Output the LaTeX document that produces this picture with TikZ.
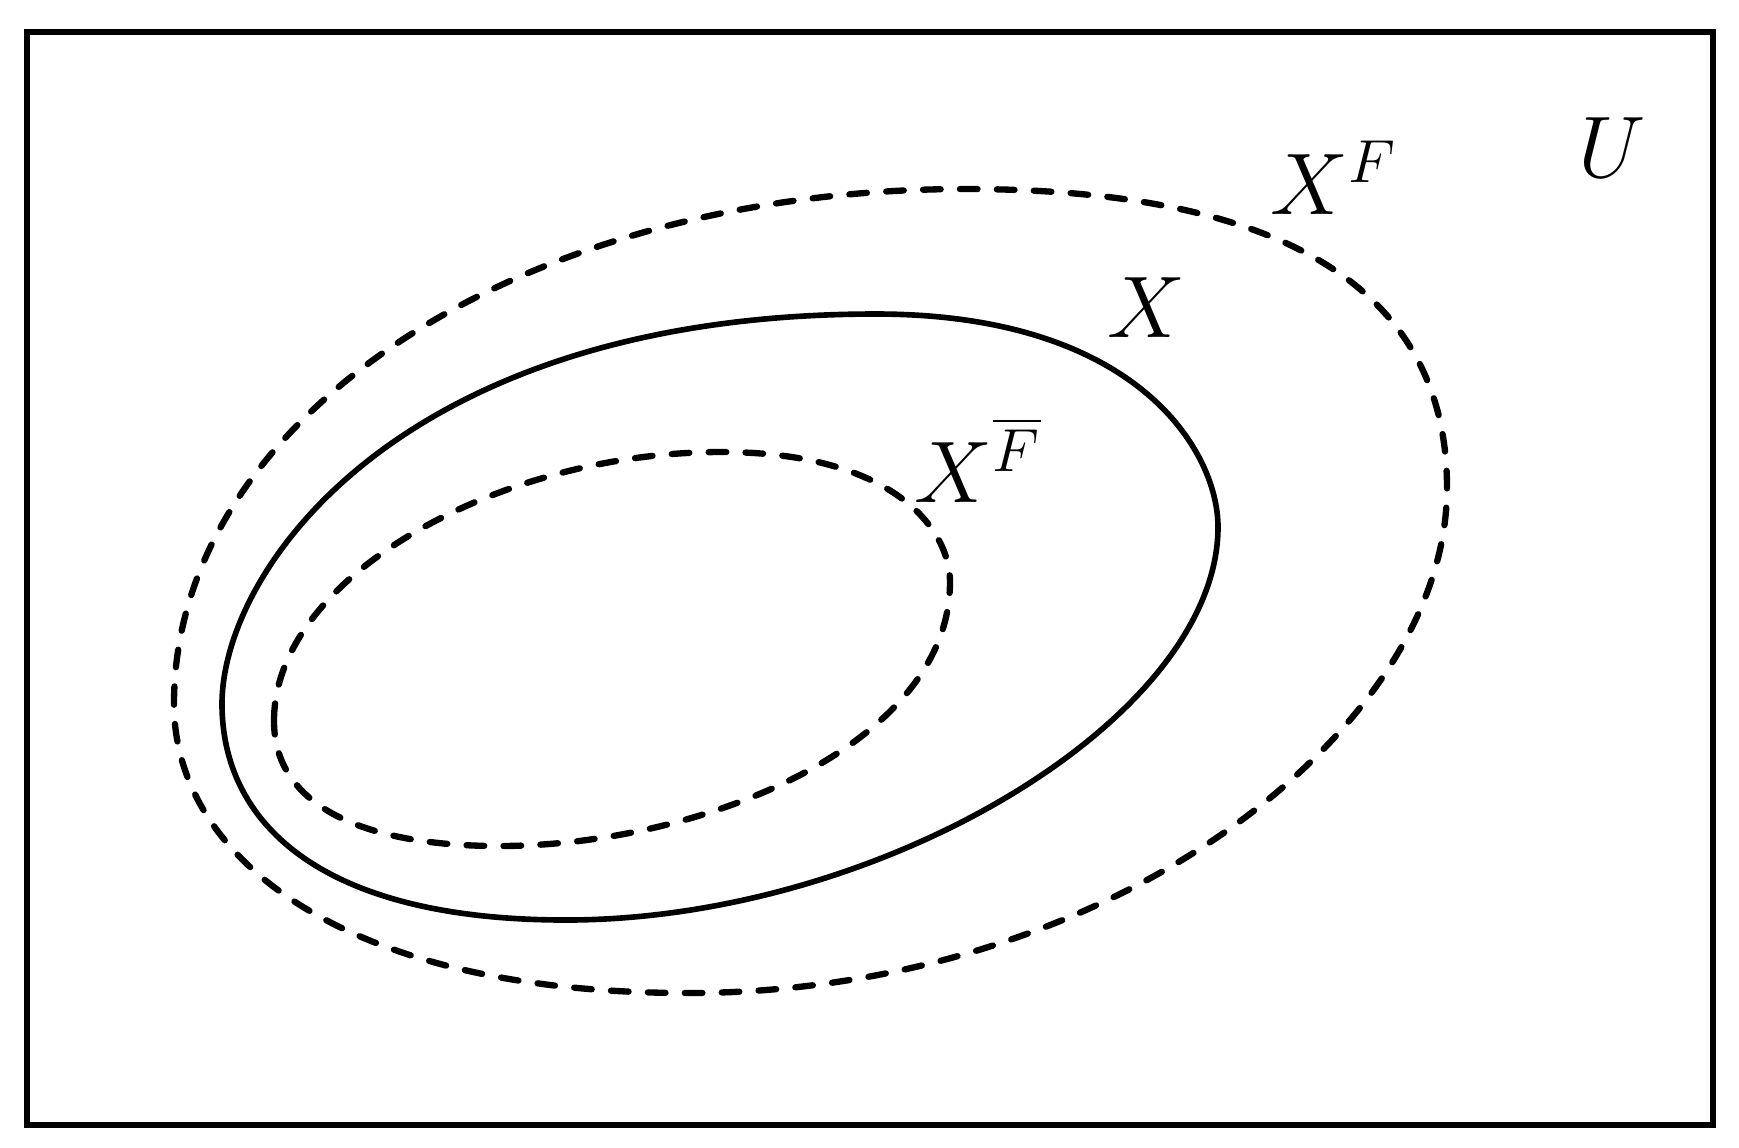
\documentclass[tikz,border=0pt]{standalone}
\usepackage{amssymb}
\usepackage{tikz}

\begin{document}
\begin{tikzpicture}[x=0.01cm, y=-0.01cm,
    every node/.style={font=\fontsize{25}{30}\selectfont},
    setline/.style={line width=1.6pt},
    approxline/.style={line width=1.8pt, line cap=round, dash pattern=on 5pt off 5.5pt}]
    \useasboundingbox (0,0) rectangle (1739,1147);
    % universe
    \draw[line width=1.8pt] (27,32) rectangle (1713,1125);
    \node (u) at (1612,148) {$U$};
    % upper approximation
    \draw[approxline] (174,704) .. controls (174,415) and (526,189) .. (965,189)
        .. controls (1362,189) and (1447,345) .. (1447,488)
        .. controls (1447,732) and (1108,993) .. (688,993)
        .. controls (339,993) and (174,855) .. cycle;
    \node (xup) at (1334,178) {$X^{F}$};
    % the set
    \draw[setline] (222,704) .. controls (222,570) and (400,314) .. (876,314)
        .. controls (1137,314) and (1218,451) .. (1218,527)
        .. controls (1218,718) and (881,920) .. (566,920)
        .. controls (315,920) and (222,819) .. cycle;
    \node (x) at (1146,308) {$X$};
    % lower approximation
    \draw[approxline] (274,721) .. controls (274,576) and (501,452) .. (721,452)
        .. controls (893,452) and (950,529) .. (950,582)
        .. controls (950,745) and (700,846) .. (499,846)
        .. controls (362,846) and (274,805) .. cycle;
    \node (xlow) at (978,460) {$X^{\overline{F}}$};
\end{tikzpicture}
\end{document}
